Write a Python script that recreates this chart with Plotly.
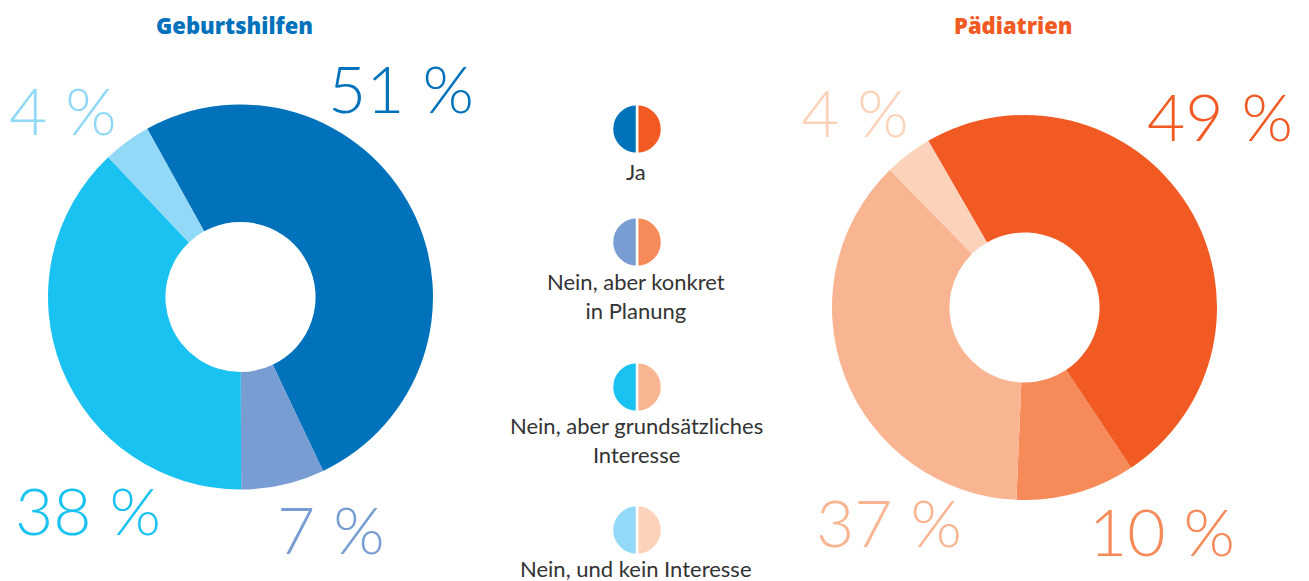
import plotly.graph_objects as go

W, H = 1309, 581

categories = ["Ja", "Nein, aber konkret<br>in Planung", "Nein, aber grundsätzliches<br>Interesse", "Nein, und kein Interesse"]
geburt_values = [51, 7, 38, 4]
paed_values = [49, 10, 37, 4]
titles = ["Geburtshilfen", "Pädiatrien"]

blue_colors = ["#0072BC", "#779DD3", "#1AC2F2", "#92D9F7"]
orange_colors = ["#F15A22", "#F68A59", "#F9B591", "#FCD3BA"]

def px_x(x):
    return x / W

def px_y(y):
    return 1 - y / H

fig = go.Figure()

# main donuts
fig.add_trace(go.Pie(
    values=geburt_values, labels=[c.replace("<br>", " ") for c in categories],
    marker=dict(colors=blue_colors, line=dict(width=0)),
    hole=0.39, sort=False, direction="clockwise", rotation=-29,
    textinfo="none", hoverinfo="skip", showlegend=False,
    domain=dict(x=[px_x(48), px_x(433)], y=[px_y(490), px_y(104)]),
))
fig.add_trace(go.Pie(
    values=paed_values, labels=[c.replace("<br>", " ") for c in categories],
    marker=dict(colors=orange_colors, line=dict(width=0)),
    hole=0.39, sort=False, direction="clockwise", rotation=-30,
    textinfo="none", hoverinfo="skip", showlegend=False,
    domain=dict(x=[px_x(832), px_x(1217)], y=[px_y(500), px_y(115)]),
))

# legend icons: half blue (left) / half orange (right) circles
icon_y = [129, 242, 387, 530]
for i, cy in enumerate(icon_y):
    fig.add_trace(go.Pie(
        values=[1, 1], labels=["a", "b"],
        marker=dict(colors=[orange_colors[i], blue_colors[i]], line=dict(color="white", width=2.5)),
        sort=False, direction="clockwise", rotation=0,
        textinfo="none", hoverinfo="skip", showlegend=False,
        domain=dict(x=[px_x(612), px_x(662)], y=[px_y(cy + 25), px_y(cy - 25)]),
    ))

annotations = []
# titles
annotations.append(dict(x=px_x(235), y=px_y(25), text=titles[0], showarrow=False,
                        xanchor="center", yanchor="middle",
                        font=dict(family="Open Sans", size=22, color=blue_colors[0], weight=800)))
annotations.append(dict(x=px_x(1013), y=px_y(25), text=titles[1], showarrow=False,
                        xanchor="center", yanchor="middle",
                        font=dict(family="Open Sans", size=22, color=orange_colors[0], weight=800)))

# percentage labels
left_pos = [(401, 87), (331, 528), (88, 509), (63, 109)]
right_pos = [(1220, 116), (1162, 530), (889, 521), (855, 112)]
for vals, cols, poss in [(geburt_values, blue_colors, left_pos), (paed_values, orange_colors, right_pos)]:
    for v, c, (x, y) in zip(vals, cols, poss):
        annotations.append(dict(x=px_x(x), y=px_y(y), text=f"{v} %", showarrow=False,
                                xanchor="center", yanchor="middle",
                                font=dict(family="Lato", size=66, color=c, weight=300)))

# legend labels
label_y = [172, 296, 440, 568]
for cat, ly in zip(categories, label_y):
    annotations.append(dict(x=px_x(636), y=px_y(ly), text=cat, showarrow=False,
                            xanchor="center", yanchor="middle",
                            font=dict(family="Lato", size=22, color="#333333")))

fig.update_layout(
    width=W, height=H,
    margin=dict(l=0, r=0, t=0, b=0),
    paper_bgcolor="white", plot_bgcolor="white",
    annotations=annotations,
)

fig.write_html("out.html", config={"displayModeBar": False},
               post_script="document.body.style.margin='0';document.body.style.overflow='hidden';")
